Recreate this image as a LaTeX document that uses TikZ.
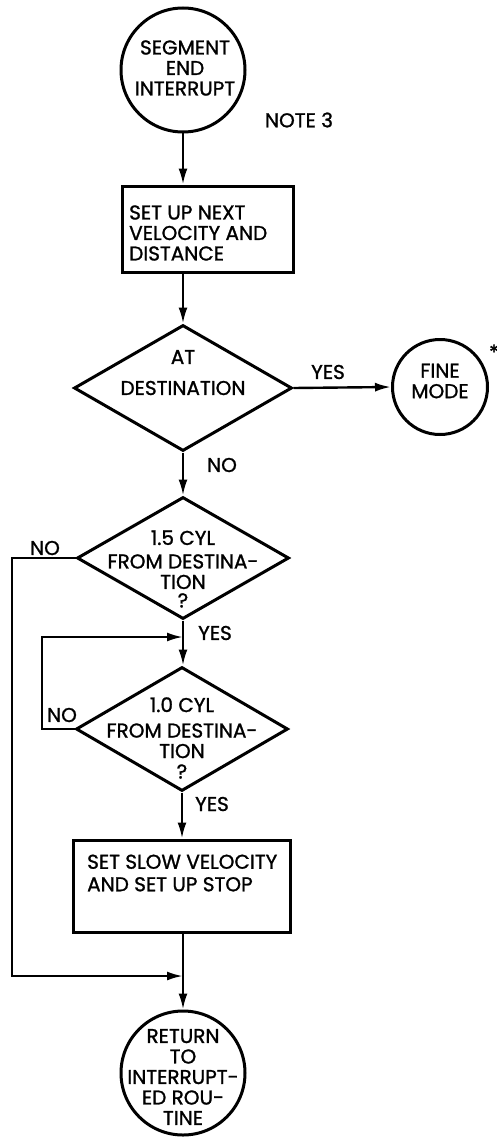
\documentclass[tikz,border=0pt]{standalone}
\usepackage{fontspec}
\setmainfont{Poppins}[FakeBold=1.2]
\usetikzlibrary{shapes.geometric,arrows.meta}
\begin{document}
\begin{tikzpicture}[x=1pt,y=-1pt,
  every node/.style={font=\fontsize{20}{20.5}\selectfont},
  shp/.style={draw,line width=3pt},
  circ/.style={shp,circle,inner sep=0pt},
  dia/.style={shp,diamond,inner sep=0pt},
  rbox/.style={shp,rectangle,inner sep=0pt},
  txt/.style={inner sep=0pt,align=center},
  lbl/.style={inner sep=0pt},
  conn/.style={line width=2.4pt},
  arr/.style={conn,-{Latex[length=16pt,width=9pt]}}
]
\useasboundingbox (0,0) rectangle (497,1137);
% shapes
\node[circ,minimum size=124pt] (c1) at (183,70) {};
\node[txt] (c1t) at (185,68) {SEGMENT\\END\\INTERRUPT};
\node[lbl] (note) at (299,120) {NOTE 3};

\node[rbox,minimum width=171pt,minimum height=86pt] (b1) at (207.5,229) {};
\node[txt,align=left,anchor=west] (b1t) at (129,233) {SET UP NEXT\\VELOCITY AND\\DISTANCE};

\node[dia,minimum width=218pt,minimum height=126pt] (d1) at (183,388) {};
\node[lbl] (d1a) at (183,357) {AT};
\node[lbl] (d1b) at (183,388) {DESTINATION};

\node[circ,minimum size=95pt] (fm) at (440,387) {};
\node[txt] (fmt) at (440,381) {\fontsize{20}{18}\selectfont FINE\\MODE};
\node[lbl] (ast) at (494,352) {*};

\node[dia,minimum width=212pt,minimum height=122pt] (d2) at (183,558) {};
\node[txt] (d2t) at (183,569) {1.5 CYL\\[3pt]FROM DESTINA-\\TION\\[-2pt]?};

\node[dia,minimum width=212pt,minimum height=124pt] (d3) at (182,729) {};
\node[txt] (d3t) at (182,738) {1.0 CYL\\[5pt]FROM DESTINA-\\TION\\?};

\node[rbox,minimum width=217pt,minimum height=92pt] (b2) at (181.5,886) {};
\node[txt,align=left,anchor=west] (b2t) at (87,873) {SET SLOW VELOCITY\\[2pt]AND SET UP STOP};

\node[circ,minimum size=124pt] (c2) at (183,1073) {};
\node[txt] (c2t) at (183,1077) {RETURN\\TO\\INTERRUPT-\\ED ROU-\\TINE};

% coordinates
\coordinate (j1) at (183,637);
\coordinate (j2) at (183,976);
\coordinate (l1) at (42,729);
\coordinate (l2) at (12,558);

% connectors
\draw[arr] (c1.south) -- (c1.south |- b1.north);
\draw[arr] (d1.north |- b1.south) -- (d1.north);
\draw[arr] (d1.east) -- (fm.west);
\node[lbl] (yes1) at (328,372) {YES};
\draw[arr] (d1.south) -- (d2.north);
\node[lbl] (no1) at (222,465) {NO};
\draw[arr] (d2.south) -- (d2.south |- d3.north);
\node[lbl] (yes2) at (215,633) {YES};
\draw[arr] (d3.west) -- (l1) |- (j1);
\node[lbl] (no3) at (62,715) {NO};
\draw[arr] (d3.south) -- (d3.south |- b2.north);
\node[lbl] (yes3) at (212,804) {YES};
\draw[arr] (d2.west) -- (l2) |- (j2);
\node[lbl] (no2) at (45,548) {NO};
\draw[arr] (j2 |- b2.south) -- (c2.north);
\end{tikzpicture}
\end{document}
